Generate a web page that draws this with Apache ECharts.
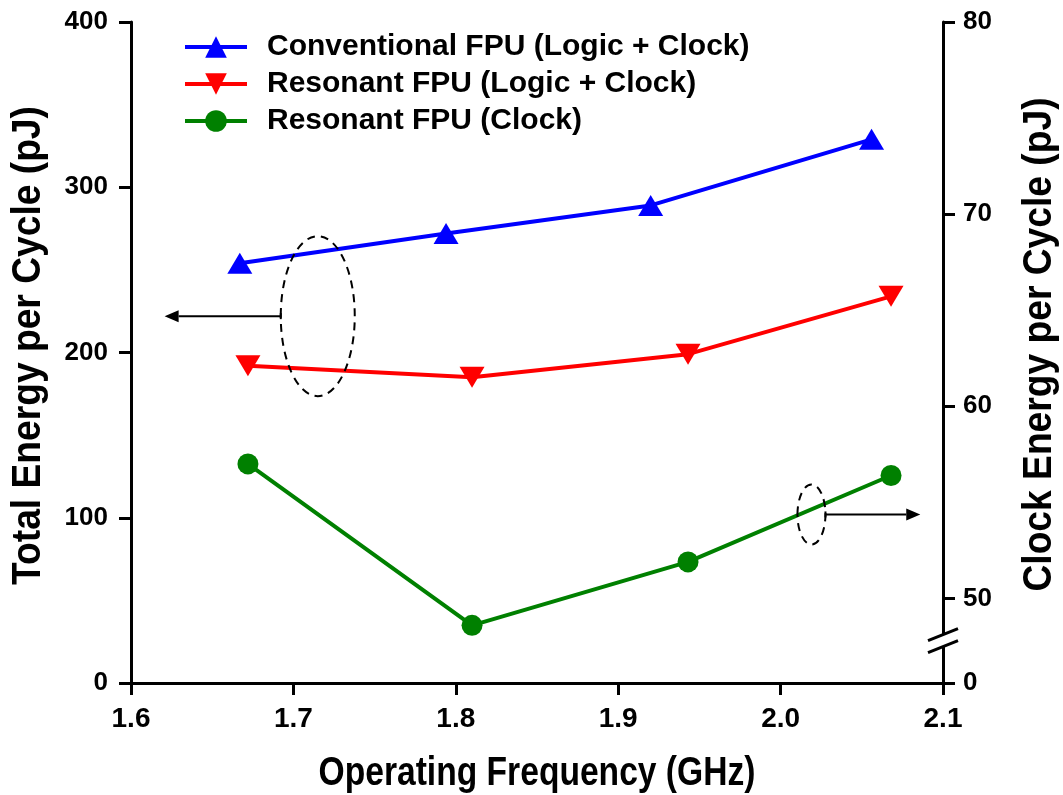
<!DOCTYPE html>
<html>
<head>
<meta charset="utf-8">
<script src="https://cdn.jsdelivr.net/npm/echarts@6/dist/echarts.min.js"></script>
<style>
  html, body { margin: 0; padding: 0; background: #fff; }
  #chart { width: 1063px; height: 795px; }
</style>
</head>
<body>
<div id="chart"></div>
<script>
// Operating frequency (GHz) of each measured point
const convFreq = [1.667, 1.794, 1.920, 2.056];
const resFreq  = [1.672, 1.810, 1.943, 2.068];

// Total energy per cycle (pJ), left axis
const convTotal = [254, 272, 289, 329];
const resTotal  = [192, 185, 199, 234];

// Clock energy per cycle (pJ), right axis
const resClock = [57.0, 48.6, 51.9, 56.4];

// Axis ticks
const clockBase = 45.6;              // bottom of the broken right axis, shown as 0
const clockTicks = [clockBase, 50, 60, 70, 80];

const seriesNames = [
  'Conventional FPU (Logic + Clock)',
  'Resonant FPU (Logic + Clock)',
  'Resonant FPU (Clock)'
];

const axisTitles = {
  x: 'Operating Frequency (GHz)',
  left: 'Total Energy per Cycle (pJ)',
  right: 'Clock Energy per Cycle (pJ)'
};

const FONT = '"Liberation Sans", Arial, sans-serif';

const pair = (xs, ys) => xs.map((x, i) => [x, ys[i]]);

const chart = echarts.init(document.getElementById('chart'), null, { renderer: 'canvas' });

const axisLine = { show: true, onZero: false, lineStyle: { color: '#000', width: 3 } };
const axisTick = { show: true, length: 12, lineStyle: { color: '#000', width: 3 } };
const tickFont = { fontFamily: FONT, fontWeight: 'bold', fontSize: 26, color: '#000' };

chart.setOption({
  animation: false,
  backgroundColor: '#fff',
  grid: { left: 131, right: 120, top: 22, bottom: 112, containLabel: false },
  legend: {
    orient: 'vertical',
    left: 178,
    top: 27,
    itemWidth: 62,
    itemHeight: 27,
    itemGap: 7,
    data: seriesNames,
    lineStyle: { width: 4 },
    textStyle: {
      fontFamily: FONT, fontWeight: 'bold', fontSize: 30, color: '#000',
      padding: [0, 0, 0, 15]
    }
  },
  xAxis: {
    type: 'value',
    min: 1.6, max: 2.1, interval: 0.1,
    axisLine, axisTick,
    splitLine: { show: false },
    axisLabel: Object.assign({ margin: 22, formatter: v => v.toFixed(1) }, tickFont, { fontSize: 28 })
  },
  yAxis: [
    {
      type: 'value',
      position: 'left',
      min: 0, max: 400, interval: 100,
      axisLine, axisTick,
      splitLine: { show: false },
      axisLabel: Object.assign({ margin: 23 }, tickFont)
    },
    {
      type: 'value',
      position: 'right',
      min: clockBase, max: 80,
      axisLine, axisTick: Object.assign({}, axisTick, { customValues: clockTicks }),
      splitLine: { show: false },
      axisLabel: Object.assign({
        margin: 20,
        customValues: clockTicks,
        formatter: v => (v === clockBase ? '0' : String(v))
      }, tickFont)
    }
  ],
  series: [
    {
      name: seriesNames[0], type: 'line', yAxisIndex: 0,
      data: pair(convFreq, convTotal),
      symbol: 'triangle', symbolSize: [25, 21],
      lineStyle: { color: '#0000ff', width: 4 },
      itemStyle: { color: '#0000ff' }
    },
    {
      name: seriesNames[1], type: 'line', yAxisIndex: 0,
      data: pair(resFreq, resTotal),
      symbol: 'triangle', symbolRotate: 180, symbolSize: [25, 21],
      lineStyle: { color: '#ff0000', width: 4 },
      itemStyle: { color: '#ff0000' }
    },
    {
      name: seriesNames[2], type: 'line', yAxisIndex: 1,
      data: pair(resFreq, resClock),
      symbol: 'circle', symbolSize: 21,
      lineStyle: { color: '#008000', width: 4 },
      itemStyle: { color: '#008000' }
    }
  ]
});

// Annotations: dashed ellipses pointing each group of curves to its axis,
// the break mark on the right axis, and condensed axis titles.
function px(x, y, axis) {
  return chart.convertToPixel({ xAxisIndex: 0, yAxisIndex: axis }, [x, y]);
}

function arrowGroup(center, rx, ry, tipX, dir) {
  const c = px(center[0], center[1], 0);
  const tip = px(tipX, center[1], 0);
  const startX = c[0] + dir * rx;
  const y = c[1];
  const head = 14, half = 6;
  return [
    {
      type: 'ellipse',
      shape: { cx: c[0], cy: c[1], rx, ry },
      style: { fill: 'none', stroke: '#000', lineWidth: 2, lineDash: [8, 6] },
      z: 10
    },
    {
      type: 'line',
      shape: { x1: startX, y1: y, x2: tip[0] - dir * head, y2: y },
      style: { stroke: '#000', lineWidth: 2 },
      z: 10
    },
    {
      type: 'line',
      shape: { x1: startX, y1: y - 3, x2: startX, y2: y + 3 },
      style: { stroke: '#000', lineWidth: 2 },
      z: 10
    },
    {
      type: 'polygon',
      shape: { points: [[tip[0], y], [tip[0] - dir * head, y - half], [tip[0] - dir * head, y + half]] },
      style: { fill: '#000' },
      z: 10
    }
  ];
}

function title(text, x, y, rotation, size, squeeze) {
  return {
    type: 'text',
    x, y,
    rotation,
    scaleX: squeeze,
    style: {
      text,
      font: `bold ${size}px ${FONT}`,
      fill: '#000',
      align: 'center',
      verticalAlign: 'middle'
    },
    z: 30
  };
}

const gridLeft = px(1.6, 0, 0)[0];
const rightX = px(2.1, 0, 0)[0];
const bottomY = px(1.6, 0, 0)[1];
const topY = px(1.6, 400, 0)[1];
const midY = (topY + bottomY) / 2;
const breakY = px(2.1, 47.8, 1)[1];
const bw = 15, bs = 6, gap = 6;

chart.setOption({
  graphic: [
    ...arrowGroup([1.715, 222], 37, 80, 1.6207, -1),
    ...arrowGroup([2.019, 102], 14, 30, 2.086, 1),
    {
      type: 'polygon',
      shape: { points: [
        [rightX - bw, breakY - gap + bs], [rightX + bw, breakY - gap - bs],
        [rightX + bw, breakY + gap - bs], [rightX - bw, breakY + gap + bs]
      ] },
      style: { fill: '#fff' },
      z: 20
    },
    {
      type: 'line',
      shape: { x1: rightX - bw, y1: breakY - gap + bs, x2: rightX + bw, y2: breakY - gap - bs },
      style: { stroke: '#000', lineWidth: 3 },
      z: 21
    },
    {
      type: 'line',
      shape: { x1: rightX - bw, y1: breakY + gap + bs, x2: rightX + bw, y2: breakY + gap - bs },
      style: { stroke: '#000', lineWidth: 3 },
      z: 21
    },
    title(axisTitles.x, (gridLeft + rightX) / 2, bottomY + 91, 0, 40, 0.84),
    title(axisTitles.left, gridLeft - 102, midY - 7, Math.PI / 2, 40, 0.93),
    title(axisTitles.right, rightX + 97, midY - 8, Math.PI / 2, 40, 0.93)
  ]
});
</script>
</body>
</html>
